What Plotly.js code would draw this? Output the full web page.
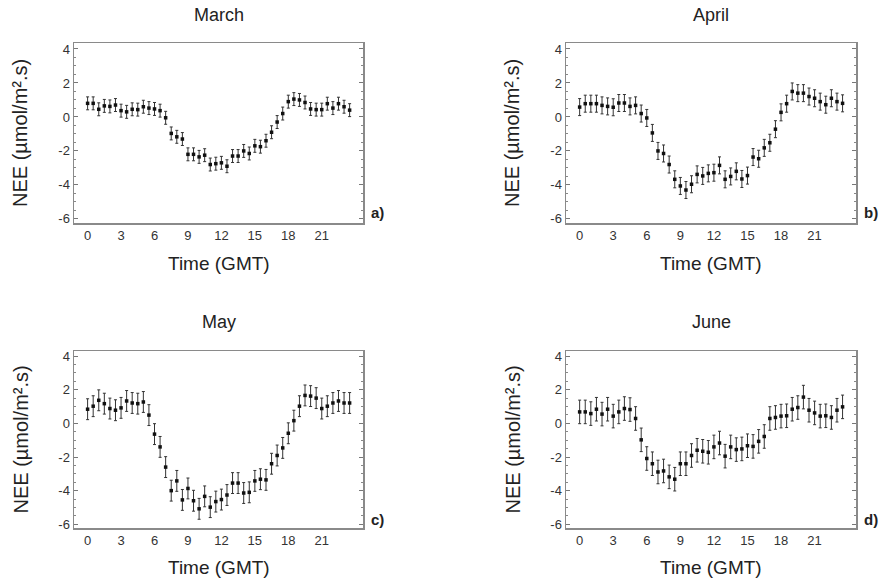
<!DOCTYPE html>
<html>
<head>
<meta charset="utf-8">
<script src="https://cdn.plot.ly/plotly-3.0.1.min.js"></script>
<style>html,body{margin:0;padding:0;background:#fff;}#chart{width:879px;height:581px;}</style>
</head>
<body>
<div id="chart"></div>
<script>
// Half-hourly time of day (GMT)
const hours = [0,0.5,1,1.5,2,2.5,3,3.5,4,4.5,5,5.5,6,6.5,7,7.5,8,8.5,9,9.5,10,10.5,11,11.5,
               12,12.5,13,13.5,14,14.5,15,15.5,16,16.5,17,17.5,18,18.5,19,19.5,20,20.5,21,21.5,22,22.5,23,23.5];

const months = ["March", "April", "May", "June"];
const panelLabels = ["a)", "b)", "c)", "d)"];

const march = [0.8,0.8,0.45,0.65,0.62,0.7,0.37,0.3,0.45,0.43,0.6,0.52,0.47,0.37,-0.05,-0.97,-1.17,-1.3,
               -2.2,-2.2,-2.35,-2.25,-2.8,-2.75,-2.7,-2.9,-2.3,-2.3,-2.0,-2.15,-1.7,-1.75,-1.4,-0.9,-0.3,0.2,
               0.9,1.05,1.0,0.85,0.47,0.43,0.43,0.78,0.52,0.78,0.6,0.4];
const april = [0.58,0.78,0.78,0.78,0.68,0.62,0.57,0.82,0.82,0.62,0.68,0.2,-0.06,-0.94,-2.0,-2.15,-2.8,-3.67,
               -4.06,-4.3,-3.96,-3.38,-3.47,-3.32,-3.28,-2.85,-3.67,-3.5,-3.2,-3.65,-3.45,-2.36,-2.46,-1.82,-1.52,-0.72,
               0.27,0.78,1.5,1.4,1.4,1.2,1.1,0.9,0.72,1.1,0.9,0.8];
const may   = [0.84,1.02,1.37,1.17,0.88,0.78,0.92,1.33,1.21,1.17,1.27,0.49,-0.64,-1.4,-2.6,-4.0,-3.42,-4.55,
               -3.87,-4.6,-5.08,-4.34,-4.98,-4.65,-4.53,-4.26,-3.55,-3.55,-4.14,-4.1,-3.42,-3.32,-3.36,-2.4,-1.91,-1.46,
               -0.59,0.16,1.02,1.66,1.62,1.5,0.88,1.02,1.21,1.33,1.21,1.21];
const june  = [0.68,0.68,0.58,0.84,0.55,0.84,0.43,0.68,0.88,0.82,0.29,-0.98,-2.09,-2.4,-2.89,-2.83,-3.18,-3.32,
               -2.4,-2.4,-1.91,-1.6,-1.66,-1.72,-1.4,-1.17,-1.95,-1.4,-1.56,-1.52,-1.33,-1.37,-1.07,-0.78,0.29,0.35,
               0.43,0.45,0.84,0.94,1.56,0.78,0.62,0.43,0.45,0.35,0.78,0.98];
// Error bar half-widths (µmol/m².s) per month
const errors = [0.38, 0.5, 0.62, 0.7];

const xTickVals = [0,3,6,9,12,15,18,21];
const yTickVals = [-6,-4,-2,0,2,4];

const series = [march, april, may, june];

// Layout geometry (pixels)
const W = 879, H = 581;
const colsPx = [[74, 363], [566, 856]];
const rowsPx = [[43, 223], [351, 528]];
const px = v => v / W;
const py = v => 1 - v / H;

const FONT = "Arial, 'Liberation Sans', sans-serif";
const traces = [];
const layout = {
  width: W, height: H,
  margin: {l: 0, r: 0, t: 0, b: 0},
  paper_bgcolor: "#fff", plot_bgcolor: "#fff",
  showlegend: false,
  font: {family: FONT, color: "#333"},
  annotations: []
};

for (let i = 0; i < 4; i++) {
  const col = i % 2, row = Math.floor(i / 2);
  const ax = i === 0 ? "" : String(i + 1);
  traces.push({
    type: "scatter", mode: "markers",
    x: hours, y: series[i],
    xaxis: "x" + ax, yaxis: "y" + ax,
    marker: {symbol: "square", size: 3.5, color: "#111"},
    error_y: {type: "constant", value: errors[i], color: "#333", thickness: 1, width: 1.5},
    hoverinfo: "x+y"
  });
  const [x0, x1] = colsPx[col];
  const [y0, y1] = rowsPx[row];
  layout["xaxis" + ax] = {
    domain: [px(x0), px(x1)], anchor: "y" + ax,
    range: [-1.22, 24.7],
    tickvals: xTickVals, ticktext: xTickVals.map(String),
    ticks: "", showgrid: false, zeroline: false,
    showline: true, mirror: true, linecolor: "#8a8a8a", linewidth: 1.5,
    tickfont: {family: FONT, size: 13, color: "#333"}
  };
  layout["yaxis" + ax] = {
    domain: [py(y1), py(y0)], anchor: "x" + ax,
    range: row === 0 ? [-6.24, 4.35] : [-6.22, 4.3],
    tickvals: yTickVals, ticktext: yTickVals.map(String),
    ticks: "inside", ticklen: 4, tickcolor: "#777", tickwidth: 1,
    minor: {dtick: 0.5, ticks: "inside", ticklen: 2, tickcolor: "#888", showgrid: false},
    showgrid: false, zeroline: false,
    showline: true, mirror: "ticks", linecolor: "#8a8a8a", linewidth: 1.5,
    tickfont: {family: FONT, size: 13, color: "#333"}
  };
  const cx = (x0 + x1) / 2, cy = (y0 + y1) / 2;
  // Panel title
  layout.annotations.push({
    text: months[i], xref: "paper", yref: "paper",
    x: px(cx), y: py(row === 0 ? 15 : 322), xanchor: "center", yanchor: "middle",
    showarrow: false, font: {family: FONT, size: 18, color: "#222"}
  });
  // Y axis title
  layout.annotations.push({
    text: "NEE (µmol/m².s)", xref: "paper", yref: "paper",
    x: px(col === 0 ? 20 : 512), y: py(cy), xanchor: "center", yanchor: "middle",
    textangle: -90, showarrow: false, font: {family: FONT, size: 20, color: "#222"}
  });
  // X axis title
  layout.annotations.push({
    text: "Time (GMT)", xref: "paper", yref: "paper",
    x: px(cx), y: py(row === 0 ? 263 : 567), xanchor: "center", yanchor: "middle",
    showarrow: false, font: {family: FONT, size: 19, color: "#222"}
  });
  // Panel letter
  layout.annotations.push({
    text: "<b>" + panelLabels[i] + "</b>", xref: "paper", yref: "paper",
    x: px(x1 + 6), y: py(row === 0 ? 213 : 519), xanchor: "left", yanchor: "middle",
    showarrow: false, font: {family: FONT, size: 15, color: "#222"}
  });
}

Plotly.newPlot("chart", traces, layout, {staticPlot: true, displayModeBar: false});
</script>
</body>
</html>
